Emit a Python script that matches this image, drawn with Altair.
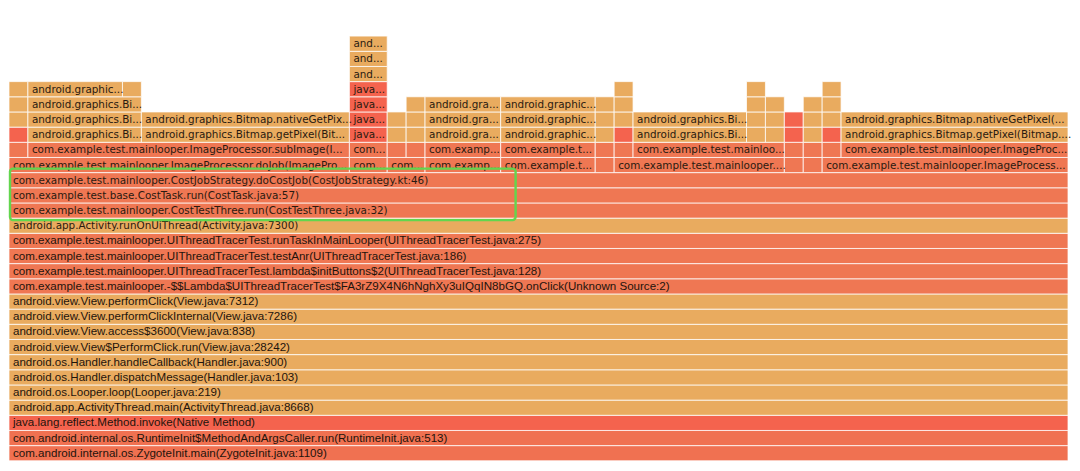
import altair as alt
import pandas as pd

TOTAL_SAMPLES = 56

# Base of the stack (full width), listed bottom to top
base_labels = [
    "com.android.internal.os.ZygoteInit.main(ZygoteInit.java:1109)",
    "com.android.internal.os.RuntimeInit$MethodAndArgsCaller.run(RuntimeInit.java:513)",
    "java.lang.reflect.Method.invoke(Native Method)",
    "android.app.ActivityThread.main(ActivityThread.java:8668)",
    "android.os.Looper.loop(Looper.java:219)",
    "android.os.Handler.dispatchMessage(Handler.java:103)",
    "android.os.Handler.handleCallback(Handler.java:900)",
    "android.view.View$PerformClick.run(View.java:28242)",
    "android.view.View.access$3600(View.java:838)",
    "android.view.View.performClickInternal(View.java:7286)",
    "android.view.View.performClick(View.java:7312)",
    "com.example.test.mainlooper.-$$Lambda$UIThreadTracerTest$FA3rZ9X4N6hNghXy3uIQqIN8bGQ.onClick(Unknown Source:2)",
    "com.example.test.mainlooper.UIThreadTracerTest.lambda$initButtons$2(UIThreadTracerTest.java:128)",
    "com.example.test.mainlooper.UIThreadTracerTest.testAnr(UIThreadTracerTest.java:186)",
    "com.example.test.mainlooper.UIThreadTracerTest.runTaskInMainLooper(UIThreadTracerTest.java:275)",
    "android.app.Activity.runOnUiThread(Activity.java:7300)",
    "com.example.test.mainlooper.CostTestThree.run(CostTestThree.java:32)",
    "com.example.test.base.CostTask.run(CostTask.java:57)",
    "com.example.test.mainlooper.CostJobStrategy.doCostJob(CostJobStrategy.kt:46)",
]
base_kinds = ["z", "z", "r", "t", "t", "t", "t", "t", "t", "t", "t",
              "s", "s", "s", "s", "t", "s", "s", "s"]

# Upper frames per row: (start sample, end sample, label, kind)
row19 = [
    (0, 18, "com.example.test.mainlooper.ImageProcessor.doJob(ImagePro...", "s"),
    (18, 20, "com...", "s"), (20, 22, "com...", "s"),
    (22, 26, "com.examp...", "s"), (26, 31, "com.example.t...", "s"),
    (31, 32, "", "s"), (32, 41, "com.example.test.mainlooper....", "s"),
    (41, 42, "", "s"), (42, 43, "", "s"),
    (43, 56, "com.example.test.mainlooper.ImageProcess...", "s"),
]
row20 = [
    (0, 1, "", "s"),
    (1, 18, "com.example.test.mainlooper.ImageProcessor.subImage(I...", "s"),
    (18, 20, "com...", "s"), (20, 21, "", "s"), (21, 22, "", "s"),
    (22, 26, "com.examp...", "s"), (26, 31, "com.example.t...", "s"),
    (31, 32, "", "s"), (32, 33, "", "s"),
    (33, 41, "com.example.test.mainloo...", "s"),
    (41, 42, "", "s"), (42, 43, "", "s"), (43, 44, "", "s"),
    (44, 56, "com.example.test.mainlooper.ImageProc...", "s"),
]
row21 = [
    (0, 1, "", "r"), (1, 7, "android.graphics.Bi...", "t"),
    (7, 18, "android.graphics.Bitmap.getPixel(Bit...", "t"),
    (18, 20, "java...", "r"), (20, 21, "", "t"), (21, 22, "", "t"),
    (22, 26, "android.gra...", "t"), (26, 31, "android.graphic...", "t"),
    (31, 32, "", "t"), (32, 33, "", "r"),
    (33, 39, "android.graphics.Bi...", "t"),
    (39, 40, "", "t"), (40, 41, "", "t"), (41, 42, "", "r"),
    (42, 43, "", "t"), (43, 44, "", "r"),
    (44, 56, "android.graphics.Bitmap.getPixel(Bitmap....", "t"),
]
row22 = [
    (0, 1, "", "t"), (1, 7, "android.graphics.Bi...", "t"),
    (7, 18, "android.graphics.Bitmap.nativeGetPix...", "t"),
    (18, 20, "java...", "r"), (20, 21, "", "t"), (21, 22, "", "t"),
    (22, 26, "android.gra...", "t"), (26, 31, "android.graphic...", "t"),
    (31, 32, "", "t"), (32, 33, "", "t"),
    (33, 39, "android.graphics.Bi...", "t"),
    (39, 40, "", "t"), (40, 41, "", "t"), (41, 42, "", "r"),
    (42, 43, "", "t"), (43, 44, "", "t"),
    (44, 56, "android.graphics.Bitmap.nativeGetPixel(...", "t"),
]
row23 = [
    (0, 1, "", "t"), (1, 7, "android.graphics.Bi...", "t"),
    (18, 20, "java...", "r"), (21, 22, "", "t"),
    (22, 26, "android.gra...", "t"), (26, 31, "android.graphic...", "t"),
    (31, 32, "", "t"), (32, 33, "", "t"),
    (39, 40, "", "t"), (40, 41, "", "t"), (42, 43, "", "t"), (43, 44, "", "t"),
]
row24 = [
    (0, 1, "", "t"), (1, 6, "android.graphic...", "t"), (6, 7, "", "t"),
    (18, 20, "java...", "r"), (32, 33, "", "t"), (39, 40, "", "t"), (43, 44, "", "t"),
]
row25 = [(18, 20, "and...", "t")]
row26 = [(18, 20, "and...", "t")]
row27 = [(18, 20, "and...", "t")]

upper_rows = {19: row19, 20: row20, 21: row21, 22: row22, 23: row23,
              24: row24, 25: row25, 26: row26, 27: row27}

# Highlighted frames (green box): rows 16-18, first 27 samples
highlight_rows = (16, 19)
highlight_span = (0, 27)

kind_colors = {"t": "#E9AB5F", "s": "#EF7753", "r": "#F4634E", "z": "#F07151"}

records = []
for i, (lab, k) in enumerate(zip(base_labels, base_kinds)):
    records.append(dict(row=i, x0=0, x1=TOTAL_SAMPLES, label=lab, color=kind_colors[k]))
for r, frames in upper_rows.items():
    for (a, b, lab, k) in frames:
        records.append(dict(row=r, x0=a, x1=b, label=lab, color=kind_colors[k]))

df = pd.DataFrame(records)
df["y0"] = df["row"]
df["y1"] = df["row"] + 1
df["ym"] = df["row"] + 0.5

W, H = 1060, 453
xs = alt.Scale(domain=[0, TOTAL_SAMPLES], range=[0, W], nice=False, zero=False)
ys = alt.Scale(domain=[0, 29.84], range=[H, 0], nice=False, zero=False)

base = alt.Chart(df)

rects = base.mark_rect(stroke="#ffffff", strokeWidth=1, strokeOpacity=0.75).encode(
    x=alt.X("x0:Q", scale=xs, axis=None),
    x2="x1",
    y=alt.Y("y1:Q", scale=ys, axis=None),
    y2="y0",
    color=alt.Color("color:N", scale=None),
)

text_upper = base.transform_filter("datum.row >= 15 && datum.label != ''").mark_text(
    align="left", baseline="middle", dx=4, dy=0.5,
    font="DejaVu Sans", fontSize=10.4, color="#2a1a10",
).encode(
    x=alt.X("x0:Q", scale=xs, axis=None),
    y=alt.Y("ym:Q", scale=ys, axis=None),
    text="label:N",
)

text_lower = base.transform_filter("datum.row < 15").mark_text(
    align="left", baseline="middle", dx=4, dy=0.5,
    font="Liberation Sans", fontSize=11.6, color="#1e140c",
).encode(
    x=alt.X("x0:Q", scale=xs, axis=None),
    y=alt.Y("ym:Q", scale=ys, axis=None),
    text="label:N",
)

hl_df = pd.DataFrame([dict(x0=highlight_span[0], x1=highlight_span[1],
                           y0=highlight_rows[0], y1=highlight_rows[1])])
highlight = alt.Chart(hl_df).mark_rect(
    filled=False, stroke="#62D64E", strokeWidth=2.4, cornerRadius=3,
    xOffset=1, x2Offset=-4, yOffset=-4, y2Offset=2,
).encode(
    x=alt.X("x0:Q", scale=xs, axis=None),
    x2="x1",
    y=alt.Y("y1:Q", scale=ys, axis=None),
    y2="y0",
)

chart = alt.layer(rects, text_upper, text_lower, highlight).properties(
    width=W, height=H, padding=0, background="white"
).configure_view(stroke=None)

chart.save("out.html", embed_options={"renderer": "svg", "actions": False})
